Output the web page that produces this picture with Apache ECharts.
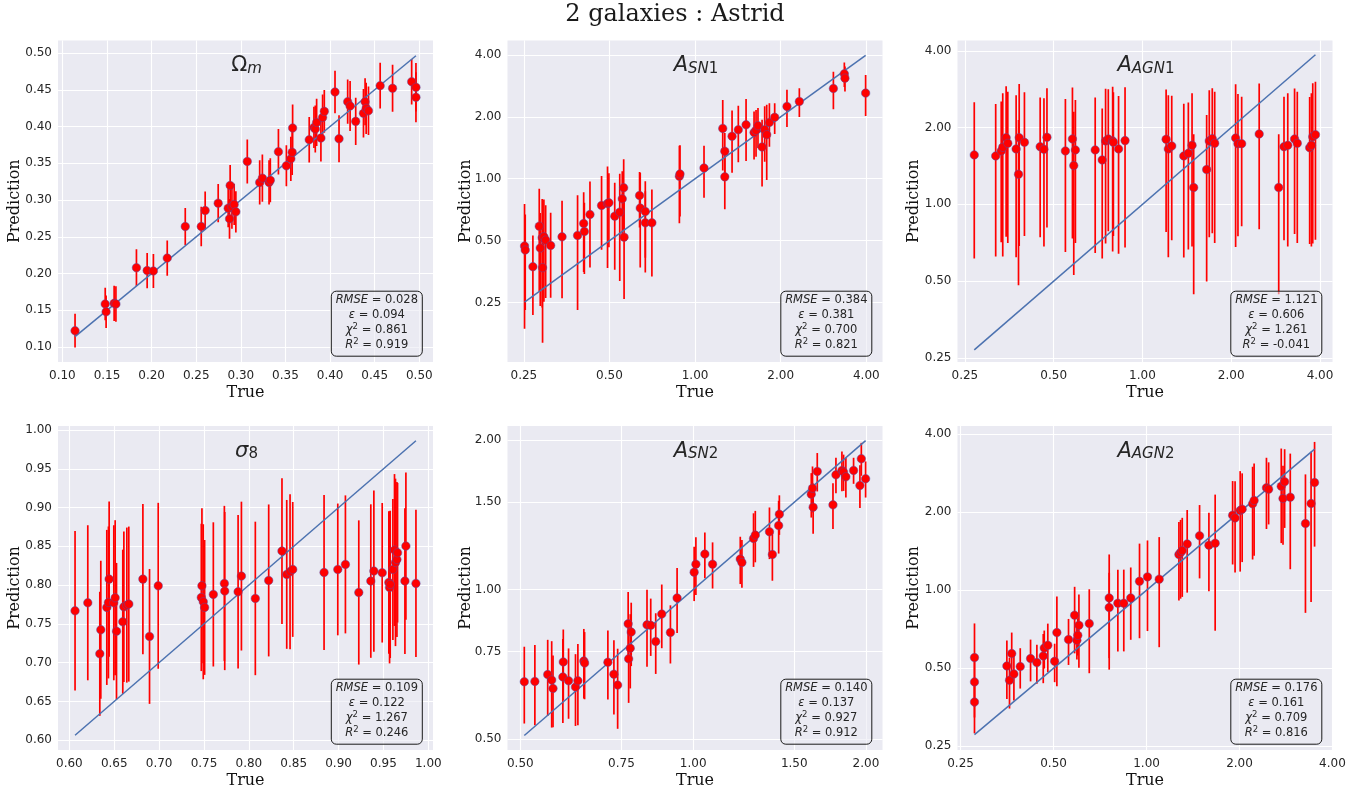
<!DOCTYPE html>
<html>
<head>
<meta charset="utf-8">
<script src="https://cdn.jsdelivr.net/npm/echarts@6.0.0/dist/echarts.min.js"></script>
<style>html,body{margin:0;padding:0;background:#ffffff}#c{width:1357px;height:789px}</style>
</head>
<body>
<div id="c"></div>
<script>
// ---------------- data ----------------
const trueOm = [0.1142,0.148,0.149,0.158,0.160,0.183,0.195,0.202,0.2175,0.2377,0.2556,0.260,0.2746,0.2858,0.2873,0.288,0.290,0.2925,0.2944,0.3072,0.3211,0.3241,0.3316,0.3330,0.3421,0.351,0.356,0.3575,0.358,0.3766,0.3819,0.3834,0.3849,0.3897,0.3916,0.3935,0.4055,0.410,0.4197,0.4224,0.4287,0.4374,0.4392,0.4404,0.443,0.4561,0.470,0.4914,0.4962,0.4962];
const predOm = [0.1223,0.1586,0.148,0.1595,0.1586,0.208,0.204,0.2035,0.221,0.264,0.264,0.2857,0.2957,0.2889,0.2744,0.3198,0.291,0.294,0.284,0.3525,0.324,0.3298,0.324,0.327,0.3657,0.3466,0.356,0.365,0.398,0.382,0.3988,0.3965,0.4056,0.3843,0.4124,0.4206,0.447,0.3834,0.4338,0.428,0.407,0.418,0.4338,0.4247,0.4215,0.4556,0.452,0.461,0.4533,0.4397];
const errOm  = [0.023,0.022,0.022,0.024,0.024,0.025,0.024,0.023,0.024,0.025,0.027,0.026,0.026,0.026,0.027,0.028,0.030,0.028,0.028,0.030,0.030,0.032,0.030,0.030,0.031,0.028,0.030,0.031,0.032,0.031,0.028,0.032,0.032,0.032,0.031,0.029,0.029,0.032,0.030,0.034,0.032,0.033,0.032,0.035,0.033,0.031,0.032,0.031,0.033,0.034];

const trueSN1 = [0.2514,0.2528,0.269,0.2832,0.2855,0.290,0.2909,0.294,0.2983,0.3106,0.3406,0.3862,0.4058,0.408,0.427,0.469,0.4922,0.4977,0.5218,0.5434,0.5546,0.561,0.5628,0.638,0.6414,0.6683,0.6683,0.7049,0.8806,0.885,1.075,1.251,1.272,1.272,1.349,1.419,1.511,1.612,1.638,1.664,1.720,1.757,1.786,1.825,1.905,2.104,2.326,3.064,3.348,3.365,3.978];
const predSN1 = [0.4706,0.450,0.3737,0.588,0.4604,0.5163,0.3693,0.522,0.503,0.4737,0.522,0.530,0.606,0.554,0.670,0.7415,0.758,0.764,0.6578,0.688,0.7986,0.9037,0.520,0.829,0.720,0.693,0.6104,0.6104,1.028,1.055,1.128,1.757,1.36,1.021,1.608,1.731,1.83,1.68,1.72,1.81,1.427,1.731,1.637,1.879,1.988,2.247,2.376,2.747,3.236,3.083,2.608];
const errSN1  = [0.284,0.22,0.156,0.305,0.22,0.28,0.21,0.27,0.24,0.21,0.26,0.30,0.254,0.21,0.30,0.29,0.39,0.30,0.297,0.37,0.29,0.34,0.26,0.25,0.35,0.28,0.26,0.276,0.42,0.40,0.32,0.66,0.31,0.31,0.54,0.53,0.61,0.44,0.44,0.40,0.51,0.52,0.65,0.45,0.34,0.46,0.38,0.57,0.44,0.43,0.59];

const trueAGN1 = [0.269,0.318,0.332,0.336,0.345,0.3495,0.373,0.38,0.382,0.398,0.450,0.4635,0.4745,0.548,0.579,0.585,0.5925,0.6915,0.7305,0.75,0.766,0.7925,0.797,0.83,0.873,1.203,1.224,1.257,1.381,1.431,1.473,1.492,1.651,1.685,1.725,1.758,2.07,2.108,2.17,2.488,2.898,3.02,3.11,3.28,3.35,3.69,3.74,3.78,3.86];
const predAGN1 = [1.563,1.549,1.62,1.674,1.826,1.735,1.65,1.312,1.826,1.751,1.684,1.644,1.831,1.62,1.805,1.419,1.635,1.635,1.494,1.773,1.805,1.773,1.751,1.65,1.778,1.799,1.65,1.694,1.549,1.586,1.704,1.164,1.369,1.773,1.81,1.735,1.82,1.73,1.73,1.888,1.164,1.684,1.704,1.805,1.735,1.669,1.704,1.843,1.876];
const errAGN1  = [0.95,0.925,0.91,1.05,1.08,1.03,1.03,0.83,1.14,1.0,0.94,0.96,1.02,0.97,1.07,0.89,0.93,0.99,0.88,1.07,1.02,1.12,1.0,1.01,1.10,1.02,1.03,0.97,0.93,0.92,1.02,0.72,0.87,1.03,1.04,1.03,1.14,0.98,0.91,1.09,0.72,0.96,1.02,1.04,1.03,0.97,1.02,1.14,1.15];

const trueS8 = [0.6063,0.6205,0.6339,0.635,0.6417,0.6435,0.6443,0.6495,0.651,0.6525,0.6595,0.6607,0.664,0.6662,0.6819,0.6893,0.699,0.747,0.7477,0.7492,0.7507,0.7604,0.7727,0.7731,0.788,0.7917,0.8072,0.8221,0.8369,0.8422,0.8459,0.8489,0.8838,0.8991,0.9076,0.9225,0.9359,0.9393,0.9486,0.956,0.9568,0.9575,0.9605,0.9623,0.9634,0.965,0.9657,0.9739,0.975,0.9862];
const predS8 = [0.7669,0.7772,0.7114,0.7424,0.7712,0.7776,0.8077,0.7772,0.7837,0.7406,0.7527,0.772,0.7742,0.7755,0.8077,0.7338,0.7991,0.7841,0.7991,0.7785,0.7712,0.788,0.8022,0.7923,0.7914,0.8116,0.7828,0.806,0.8439,0.8138,0.8172,0.8202,0.8163,0.8202,0.8267,0.7905,0.8052,0.8181,0.8159,0.8034,0.797,0.8009,0.8202,0.8452,0.8293,0.8331,0.8417,0.8052,0.8503,0.8022];
const errS8  = [0.103,0.10,0.08,0.089,0.10,0.098,0.10,0.10,0.10,0.088,0.093,0.097,0.10,0.10,0.097,0.087,0.107,0.095,0.10,0.10,0.087,0.093,0.10,0.102,0.099,0.096,0.099,0.098,0.094,0.096,0.10,0.087,0.10,0.085,0.089,0.093,0.099,0.104,0.09,0.092,0.098,0.095,0.091,0.098,0.108,0.10,0.09,0.094,0.095,0.095];

const trueSN2 = [0.508,0.530,0.558,0.567,0.570,0.594,0.593,0.6067,0.6238,0.6298,0.645,0.647,0.7103,0.7277,0.7387,0.7705,0.772,0.777,0.780,0.831,0.8435,0.8606,0.8817,0.9128,0.9376,1.004,1.011,1.048,1.081,1.208,1.216,1.274,1.283,1.358,1.374,1.409,1.413,1.606,1.614,1.618,1.645,1.752,1.773,1.816,1.828,1.845,1.903,1.952,1.963,1.997];
const predSN2 = [0.652,0.653,0.674,0.657,0.632,0.7148,0.6666,0.655,0.636,0.655,0.718,0.711,0.7136,0.675,0.642,0.853,0.725,0.762,0.821,0.849,0.847,0.786,0.8928,0.8196,0.9619,1.084,1.125,1.179,1.125,1.152,1.134,1.268,1.288,1.308,1.177,1.346,1.419,1.557,1.601,1.466,1.731,1.482,1.704,1.739,1.726,1.688,1.739,1.621,1.836,1.673];
const errSN2  = [0.115,0.12,0.118,0.13,0.104,0.116,0.128,0.106,0.105,0.122,0.115,0.11,0.113,0.115,0.118,0.136,0.134,0.13,0.12,0.15,0.112,0.11,0.131,0.11,0.144,0.136,0.15,0.125,0.12,0.126,0.125,0.157,0.153,0.156,0.135,0.164,0.13,0.16,0.17,0.17,0.154,0.157,0.14,0.16,0.145,0.154,0.105,0.16,0.14,0.14];

const trueAGN2 = [0.2773,0.2773,0.2773,0.353,0.360,0.366,0.372,0.390,0.4212,0.4415,0.463,0.4665,0.479,0.504,0.5125,0.559,0.585,0.595,0.599,0.604,0.6525,0.757,0.757,0.8075,0.844,0.889,0.949,1.007,1.099,1.273,1.289,1.305,1.354,1.485,1.592,1.668,1.90,1.935,2.01,2.04,2.205,2.23,2.445,2.485,2.73,2.766,2.80,2.92,3.27,3.41,3.50];
const predAGN2 = [0.5497,0.443,0.3706,0.5105,0.4497,0.5697,0.4756,0.5076,0.545,0.526,0.558,0.599,0.6134,0.532,0.6865,0.645,0.8009,0.641,0.67,0.7325,0.7436,0.934,0.8574,0.8909,0.8909,0.934,1.083,1.126,1.103,1.373,1.398,1.4226,1.509,1.621,1.492,1.518,1.947,1.901,2.03,2.054,2.154,2.219,2.483,2.454,2.52,2.258,2.619,2.285,1.808,2.16,2.603];
const errAGN2  = [0.195,0.12,0.09,0.13,0.10,0.117,0.10,0.09,0.10,0.09,0.12,0.10,0.13,0.09,0.26,0.13,0.23,0.10,0.11,0.23,0.265,0.44,0.31,0.31,0.31,0.29,0.43,0.43,0.50,0.46,0.47,0.48,0.53,0.51,0.50,0.82,0.69,0.73,0.85,0.77,0.84,0.86,0.76,0.66,1.0,0.76,0.88,1.08,0.99,1.26,1.13];

// tick labels
const ticksOm  = [0.10,0.15,0.20,0.25,0.30,0.35,0.40,0.45,0.50];
const ticksS8  = [0.60,0.65,0.70,0.75,0.80,0.85,0.90,0.95,1.00];
const ticksLog = [0.25,0.50,1.00,2.00,4.00];
const ticksSN2 = [0.50,0.75,1.00,1.50,2.00];

// statistics shown in the boxes
const statRMSE = ['0.028','0.384','1.121','0.109','0.140','0.176'];
const statEps  = ['0.094','0.381','0.606','0.122','0.137','0.161'];
const statChi2 = ['0.861','0.700','1.261','1.267','0.927','0.709'];
const statR2   = ['0.919','0.821','-0.041','0.246','0.912','0.816'];

// panel titles (rich text)
const panelTitles = [
  '{up|Ω}{subi|m}',
  '{it|A}{subi|SN}{sub|1}',
  '{it|A}{subi|AGN}{sub|1}',
  '{it|σ}{sub|8}',
  '{it|A}{subi|SN}{sub|2}',
  '{it|A}{subi|AGN}{sub|2}'
];

// ---------------- layout & style ----------------
const BG = '#EAEAF2';
const colLeft = [58, 507.5, 957.5];
const W = 375;
const rowTop = [40.5, 426];
const rowH = [321.5, 324];

const panels = [
  {t: trueOm,   p: predOm,   e: errOm,   type: 'value', xr: [0.0951, 0.5153], yr: [0.0797, 0.5170], xt: ticksOm,  yt: ticksOm,  gap: 35},
  {t: trueSN1,  p: predSN1,  e: errSN1,  type: 'log',   xr: [0.219, 4.56],    yr: [0.1285, 4.70],   xt: ticksLog, yt: ticksLog, gap: 34},
  {t: trueAGN1, p: predAGN1, e: errAGN1, type: 'log',   xr: [0.236, 4.41],    yr: [0.241, 4.39],    xt: ticksLog, yt: ticksLog, gap: 36},
  {t: trueS8,   p: predS8,   e: errS8,   type: 'value', xr: [0.5873, 1.0052], yr: [0.5873, 1.0052], xt: ticksS8,  yt: ticksS8,  gap: 35},
  {t: trueSN2,  p: predSN2,  e: errSN2,  type: 'log',   xr: [0.4749, 2.137],  yr: [0.4749, 2.137],  xt: ticksSN2, yt: ticksSN2, gap: 34},
  {t: trueAGN2, p: predAGN2, e: errAGN2, type: 'log',   xr: [0.2443, 4.0005], yr: [0.242, 4.30],    xt: ticksLog, yt: ticksLog, gap: 36}
];

const fmt2 = v => Number(v).toFixed(2);
const TICK_COLOR = '#262626';

function axisCommon(p, ticks, isX, i) {
  const a = {
    gridIndex: i,
    type: p.type,
    min: isX ? p.xr[0] : p.yr[0],
    max: isX ? p.xr[1] : p.yr[1],
    axisLine: {show: false},
    axisTick: {show: false, customValues: ticks},
    axisLabel: {
      customValues: ticks,
      formatter: fmt2,
      fontFamily: 'DejaVu Sans',
      fontSize: 12,
      color: TICK_COLOR,
      margin: isX ? 8 : 6
    },
    splitLine: {show: true, customValues: ticks, showMinLine: true, showMaxLine: true, lineStyle: {color: '#ffffff', width: 1.1}},
    name: isX ? 'True' : 'Prediction',
    nameLocation: 'middle',
    nameGap: isX ? 22.5 : p.gap,
    nameMoveOverlap: false,
    nameTextStyle: {fontFamily: 'DejaVu Serif', fontSize: 16, color: '#111111'}
  };
  if (p.type === 'log') a.logBase = 2;
  return a;
}

const grids = [], xAxes = [], yAxes = [], series = [], graphics = [];

function errorbarRender(params, api) {
  const x = api.value(0), y = api.value(1), e = api.value(2);
  const lo = Math.max(y - e, 1e-3);
  const a = api.coord([x, y + e]);
  const b = api.coord([x, lo]);
  return {
    type: 'line',
    shape: {x1: a[0], y1: a[1], x2: b[0], y2: b[1]},
    style: {stroke: '#ff0000', lineWidth: 1.7}
  };
}

panels.forEach((p, i) => {
  const c = i % 3, r = Math.floor(i / 3);
  const left = colLeft[c], top = rowTop[r], h = rowH[r];
  grids.push({left: left, top: top, width: W, height: h, show: true, backgroundColor: BG, borderWidth: 0, containLabel: false, outerBoundsMode: 'none'});
  xAxes.push(axisCommon(p, p.xt, true, i));
  yAxes.push(axisCommon(p, p.yt, false, i));

  const mn = Math.min.apply(null, p.t), mx = Math.max.apply(null, p.t);

  series.push({
    type: 'custom', xAxisIndex: i, yAxisIndex: i, clip: true, silent: true, z: 2,
    renderItem: errorbarRender,
    encode: {x: 0, y: 1},
    data: p.t.map((x, k) => [x, p.p[k], p.e[k]])
  });
  series.push({
    type: 'line', xAxisIndex: i, yAxisIndex: i, silent: true, z: 3,
    showSymbol: false, symbol: 'none',
    lineStyle: {color: '#4C72B0', width: 1.5},
    data: [[mn, mn], [mx, mx]]
  });
  series.push({
    type: 'scatter', xAxisIndex: i, yAxisIndex: i, silent: true, z: 4,
    symbol: 'circle', symbolSize: 8.5,
    itemStyle: {color: '#ff0000', borderColor: 'rgba(80,80,170,0.8)', borderWidth: 0.6, opacity: 1},
    data: p.t.map((x, k) => [x, p.p[k]])
  });

  // panel title
  graphics.push({
    type: 'text', z: 100,
    x: left + W / 2 + 1, y: top + 23,
    style: {
      text: panelTitles[i],
      textAlign: 'center', align: 'center',
      textVerticalAlign: 'middle', verticalAlign: 'middle',
      fill: '#262626',
      rich: {
        up:   {fontFamily: 'DejaVu Sans', fontSize: 21, lineHeight: 26, verticalAlign: 'bottom', fill: '#262626'},
        it:   {fontFamily: 'DejaVu Sans', fontStyle: 'italic', fontSize: 21, lineHeight: 26, verticalAlign: 'bottom', fill: '#262626'},
        subi: {fontFamily: 'DejaVu Sans', fontStyle: 'italic', fontSize: 15, lineHeight: 13, verticalAlign: 'bottom', fill: '#262626'},
        sub:  {fontFamily: 'DejaVu Sans', fontSize: 15, lineHeight: 13, verticalAlign: 'bottom', fill: '#262626'}
      }
    }
  });

  // stats box
  const bw = 91, bh = 65;
  const bx = left + W - 10.7 - bw, by = top + h - 5.8 - bh;
  graphics.push({
    type: 'rect', z: 100,
    shape: {x: bx, y: by, width: bw, height: bh, r: 5},
    style: {fill: 'rgba(234,234,242,0.55)', stroke: '#1a1a1a', lineWidth: 1}
  });
  graphics.push({
    type: 'text', z: 101,
    x: bx + bw / 2, y: by + 1,
    style: {
      text: '{i|RMSE} = ' + statRMSE[i] + '\n{i|ε} = ' + statEps[i] + '\n{i|χ}{sup|2} = ' + statChi2[i] + '\n{i|R}{sup|2} = ' + statR2[i],
      textAlign: 'center', align: 'center',
      textVerticalAlign: 'top', verticalAlign: 'top',
      fontFamily: 'DejaVu Sans', fontSize: 11.5, lineHeight: 15, fill: '#262626',
      rich: {
        i: {fontFamily: 'DejaVu Sans', fontStyle: 'italic', fontSize: 11.5, lineHeight: 15, fill: '#262626'},
        sup: {fontFamily: 'DejaVu Sans', fontSize: 8.5, lineHeight: 9, verticalAlign: 'top', fill: '#262626'}
      }
    }
  });
});

graphics.push({
  type: 'text', z: 100,
  x: 675, y: 15,
  style: {
    text: '2 galaxies : Astrid',
    textAlign: 'center', align: 'center',
    textVerticalAlign: 'middle', verticalAlign: 'middle',
    fontFamily: 'DejaVu Serif', fontSize: 24, fill: '#1a1a1a'
  }
});

const chart = echarts.init(document.getElementById('c'), null, {renderer: 'canvas'});
chart.setOption({
  backgroundColor: '#ffffff',
  animation: false,
  grid: grids,
  xAxis: xAxes,
  yAxis: yAxes,
  series: series,
  graphic: graphics
});
</script>
</body>
</html>
